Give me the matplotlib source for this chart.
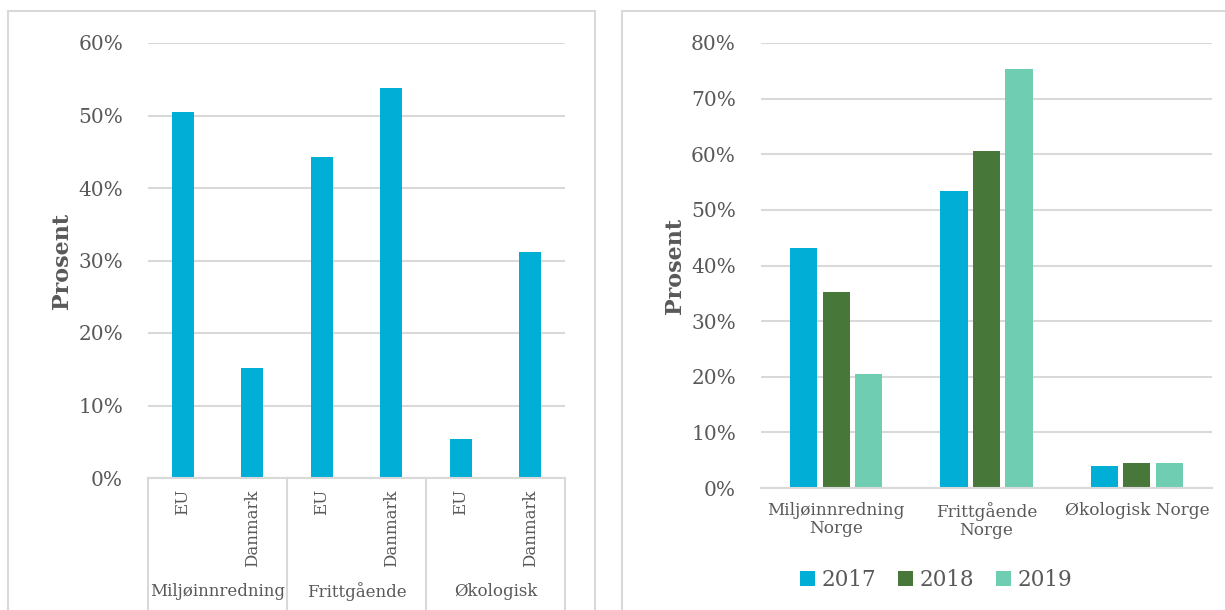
import numpy as np
import matplotlib.pyplot as plt
from matplotlib.patches import Rectangle
from matplotlib.ticker import FuncFormatter

# left panel data
left_groups = ['Miljøinnredning', 'Frittgående', 'Økologisk']
left_sub = ['EU', 'Danmark', 'EU', 'Danmark', 'EU', 'Danmark']
left_vals = [50.5, 15.2, 44.3, 53.8, 5.4, 31.2]

# right panel data
right_cats = ['Miljøinnredning\nNorge', 'Frittgående\nNorge', 'Økologisk Norge']
years = ['2017', '2018', '2019']
v2017 = [43.1, 53.4, 4.0]
v2018 = [35.2, 60.6, 4.5]
v2019 = [20.5, 75.3, 4.5]

blue = '#00AED6'
green = '#48773A'
mint = '#6FCEB2'
grid = '#D9D9D9'
txt = '#595959'

plt.rcParams['font.family'] = ['DejaVu Serif']

fig = plt.figure(figsize=(12.25, 6.1), dpi=100)

# panel frames
for x0, w in [(8 / 1225, 587 / 1225), (622 / 1225, 620 / 1225)]:
    fig.patches.append(Rectangle((x0, -0.05), w, 1.05 - 11 / 610, transform=fig.transFigure,
                                 fill=False, edgecolor=grid, lw=1.5))

pct = FuncFormatter(lambda v, p: '%d%%' % v)

def style(ax, ymax):
    ax.set_ylim(0, ymax)
    ax.set_yticks(np.arange(0, ymax + 1, 10))
    ax.yaxis.set_major_formatter(pct)
    ax.grid(axis='y', color=grid, lw=1.5)
    ax.set_axisbelow(True)
    for s in ['top', 'right', 'left']:
        ax.spines[s].set_visible(False)
    ax.spines['bottom'].set_color(grid)
    ax.spines['bottom'].set_linewidth(1.5)
    ax.tick_params(axis='both', length=0, colors=txt)
    ax.tick_params(axis='y', labelsize=14.5, pad=18)
    ax.set_ylabel('Prosent', fontsize=16, fontweight='bold', color=txt)

# ---- left chart
ax1 = fig.add_axes([148 / 1225, 1 - 478 / 610, 417 / 1225, 435 / 610])
x = np.arange(len(left_vals))
ax1.bar(x, left_vals, 0.32, color=blue)
ax1.set_xlim(-0.5, 5.5)
style(ax1, 60)
ax1.yaxis.labelpad = 4
ax1.set_xticks(x)
ax1.set_xticklabels(left_sub, rotation=90, fontsize=12, color=txt)
ax1.tick_params(axis='x', pad=8)
tr = ax1.get_xaxis_transform()
for xs in [-0.5, 1.5, 3.5, 5.5]:
    ax1.plot([xs, xs], [0, -0.3], transform=tr, color=grid, lw=1.5, clip_on=False)
for i, g in enumerate(left_groups):
    ax1.text(2 * i + 0.5, -0.26, g, transform=tr, ha='center', va='center',
             fontsize=12, color=txt)

# ---- right chart
ax2 = fig.add_axes([761 / 1225, 1 - 488 / 610, 451 / 1225, 445 / 610])
xr = np.arange(len(right_cats))
w = 0.18
ax2.bar(xr - 1.2 * w, v2017, w, color=blue, label=years[0])
ax2.bar(xr, v2018, w, color=green, label=years[1])
ax2.bar(xr + 1.2 * w, v2019, w, color=mint, label=years[2])
ax2.set_xlim(-0.5, 2.5)
style(ax2, 80)
ax2.yaxis.labelpad = 4
ax2.set_xticks(xr)
ax2.set_xticklabels(right_cats, fontsize=12.2, color=txt, linespacing=1.1)
ax2.tick_params(axis='x', pad=10)

leg = fig.legend(loc='center', bbox_to_anchor=(936 / 1225, 1 - 580 / 610), ncol=3,
                 frameon=False, fontsize=15.5, handlelength=0.7, handleheight=0.7,
                 handletextpad=0.3, columnspacing=1.0)
for t in leg.get_texts():
    t.set_color(txt)

fig.savefig('out.png', dpi=100)
